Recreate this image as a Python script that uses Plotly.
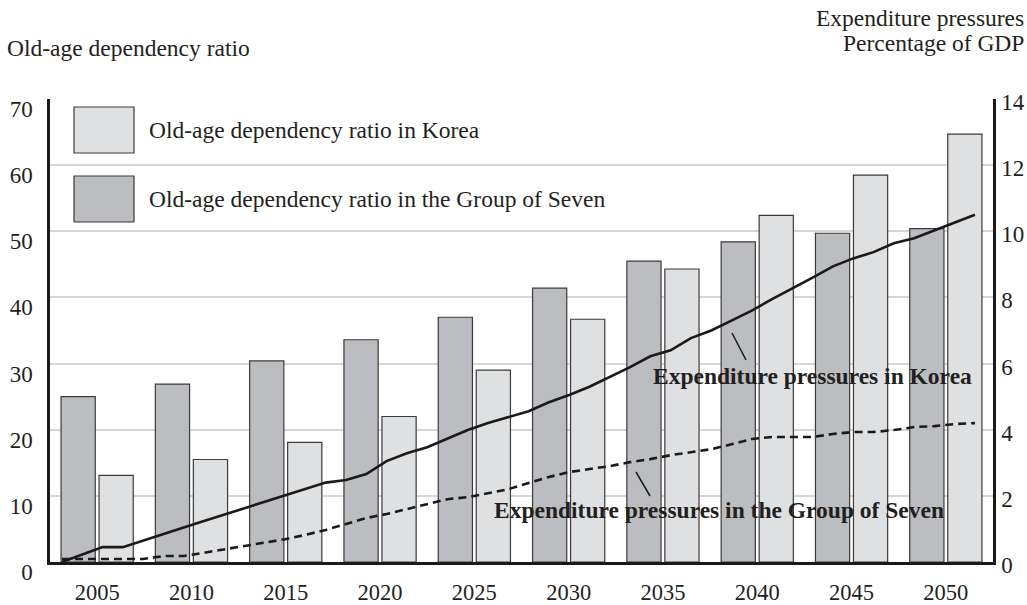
import plotly.graph_objects as go

# ---- data ----
bar_years = ["2005", "2010", "2015", "2020", "2025", "2030", "2035", "2040", "2045", "2050"]
ratio_g7 = [25.0, 26.9, 30.4, 33.6, 37.0, 41.4, 45.5, 48.4, 49.7, 50.4]
ratio_korea = [13.1, 15.5, 18.1, 22.0, 29.0, 36.7, 44.3, 52.4, 58.5, 64.7]

line_years = list(range(2005, 2051))
exp_korea = [0.0, 0.22, 0.45, 0.45, 0.64, 0.84, 1.04, 1.24, 1.43, 1.63,
             1.82, 2.01, 2.20, 2.40, 2.48, 2.66, 3.05, 3.29, 3.47, 3.72,
             3.99, 4.20, 4.38, 4.56, 4.83, 5.05, 5.30, 5.59, 5.89, 6.22,
             6.40, 6.77, 7.00, 7.30, 7.60, 7.95, 8.27, 8.60, 8.94, 9.18,
             9.37, 9.64, 9.79, 10.03, 10.27, 10.50]
exp_g7 = [0.09, 0.09, 0.09, 0.09, 0.09, 0.18, 0.18, 0.28, 0.38, 0.48,
          0.59, 0.69, 0.82, 0.97, 1.15, 1.33, 1.45, 1.60, 1.75, 1.90,
          1.96, 2.08, 2.20, 2.39, 2.57, 2.72, 2.81, 2.90, 3.02, 3.11,
          3.23, 3.32, 3.41, 3.56, 3.72, 3.78, 3.78, 3.78, 3.87, 3.93,
          3.93, 3.99, 4.08, 4.11, 4.17, 4.20]

left_ticks = [0, 10, 20, 30, 40, 50, 60, 70]
right_ticks = [0, 2, 4, 6, 8, 10, 12, 14]

FONT = "Liberation Serif, Times New Roman, serif"
TXT = "#231f20"
C_G7 = "#bcbdc1"
C_KOR = "#dfe0e2"
EDGE = "#3a3a3a"
FS = 23.5

fig = go.Figure()
fig.add_trace(go.Bar(x=bar_years, y=ratio_g7, name="Old-age dependency ratio in the Group of Seven",
                     marker=dict(color=C_G7, line=dict(color=EDGE, width=1.2)),
                     xaxis="x", yaxis="y", showlegend=False))
fig.add_trace(go.Bar(x=bar_years, y=ratio_korea, name="Old-age dependency ratio in Korea",
                     marker=dict(color=C_KOR, line=dict(color=EDGE, width=1.2)),
                     xaxis="x", yaxis="y", showlegend=False))
fig.add_trace(go.Scatter(x=line_years, y=exp_korea, mode="lines", name="Expenditure pressures in Korea",
                         line=dict(color="#1a1a1a", width=2.6), xaxis="x2", yaxis="y2", showlegend=False))
fig.add_trace(go.Scatter(x=line_years, y=exp_g7, mode="lines", name="Expenditure pressures in the Group of Seven",
                         line=dict(color="#1a1a1a", width=2.6, dash="8px,5px"), xaxis="x2", yaxis="y2",
                         showlegend=False))

fig.update_layout(
    width=1027, height=605,
    margin=dict(l=50, r=34, t=99, b=43),
    paper_bgcolor="white", plot_bgcolor="white",
    font=dict(family=FONT, color=TXT, size=FS),
    barmode="group", bargap=0.194, bargroupgap=0.1,
    xaxis=dict(type="category", range=[-0.5, 9.5], showgrid=False, showline=True,
               linecolor="#1a1a1a", linewidth=2.5, ticks="", ticklabelstandoff=8,
               tickfont=dict(size=22.5, family=FONT, color=TXT), zeroline=False, automargin=False),
    xaxis2=dict(overlaying="x", range=[2004.41, 2050.89], visible=False, automargin=False),
    yaxis=dict(range=[0, 70], tickvals=left_ticks, showgrid=True, gridcolor="#d6d6d6", gridwidth=2,
               showline=True, linecolor="#1a1a1a", linewidth=2.5, ticks="", zeroline=False,
               ticklabelshift=10, ticklabelstandoff=10, automargin=False,
               tickfont=dict(size=23, family=FONT, color=TXT)),
    yaxis2=dict(range=[0, 14], tickvals=right_ticks, overlaying="y", side="right", showgrid=False,
                showline=True, linecolor="#1a1a1a", linewidth=2.5, ticks="", zeroline=False,
                ticklabelshift=3, ticklabelstandoff=1, automargin=False,
                tickfont=dict(size=23, family=FONT, color=TXT)),
    showlegend=False,
)

def px_x(p):
    return (p - 50) / 943.0

def px_y(p):
    return (562 - p) / 463.0

# legend swatches
for (y0, y1, col) in [(107, 153, C_KOR), (176, 222, C_G7)]:
    fig.add_shape(type="rect", xref="paper", yref="paper", x0=px_x(74), x1=px_x(134),
                  y0=px_y(y1), y1=px_y(y0), fillcolor=col, line=dict(color=EDGE, width=1.2))

fig.add_annotation(xref="paper", yref="paper", x=px_x(147), y=px_y(130), xanchor="left", yanchor="middle",
                   text="Old-age dependency ratio in Korea", showarrow=False, font=dict(size=FS))
fig.add_annotation(xref="paper", yref="paper", x=px_x(147), y=px_y(199), xanchor="left", yanchor="middle",
                   text="Old-age dependency ratio in the Group of Seven", showarrow=False, font=dict(size=FS))

# axis titles
fig.add_annotation(xref="paper", yref="paper", x=px_x(5), y=px_y(48), xanchor="left", yanchor="middle",
                   text="Old-age dependency ratio", showarrow=False, font=dict(size=FS))
fig.add_annotation(xref="paper", yref="paper", x=px_x(1026), y=px_y(18), xanchor="right", yanchor="middle",
                   text="Expenditure pressures", showarrow=False, font=dict(size=FS))
fig.add_annotation(xref="paper", yref="paper", x=px_x(1026), y=px_y(43), xanchor="right", yanchor="middle",
                   text="Percentage of GDP", showarrow=False, font=dict(size=FS))

# line labels with leader lines
fig.add_annotation(xref="paper", yref="paper", x=px_x(812), y=px_y(376), xanchor="center", yanchor="middle",
                   text="<b>Expenditure pressures in Korea</b>", showarrow=False, font=dict(size=FS))
fig.add_annotation(xref="paper", yref="paper", x=px_x(719), y=px_y(510), xanchor="center", yanchor="middle",
                   text="<b>Expenditure pressures in the Group of Seven</b>", showarrow=False, font=dict(size=FS))
fig.add_shape(type="line", xref="paper", yref="paper", x0=px_x(732), y0=px_y(333), x1=px_x(746), y1=px_y(360),
              line=dict(color="#1a1a1a", width=1.5))
fig.add_shape(type="line", xref="paper", yref="paper", x0=px_x(636), y0=px_y(472), x1=px_x(650), y1=px_y(496),
              line=dict(color="#1a1a1a", width=1.5))

fig.write_html("out.html", config={"displayModeBar": False},
               post_script="document.body.style.margin='0px';document.body.style.overflow='hidden';")
